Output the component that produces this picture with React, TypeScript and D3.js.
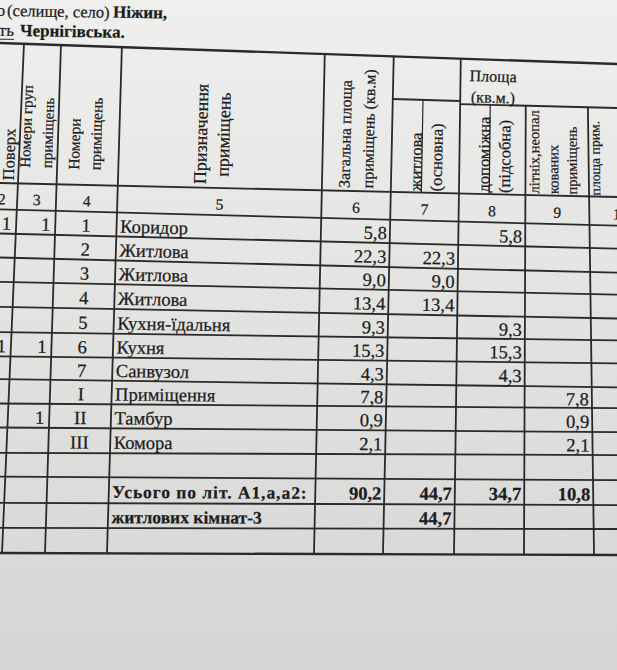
import { useEffect, useRef } from 'react';
import * as d3 from 'd3';

// ---- form content ----
const cityLine = ['Місто', '(селище, село)', 'Ніжин,'];
const regionLine = ['Область', 'Чернігівська.'];

const columnNumbers = ['2', '3', '4', '5', '6', '7', '8', '9', '10'];

const headerCol2 = ['Поверх'];
const headerCol3 = ['Номери груп', 'приміщень'];
const headerCol4 = ['Номери', 'приміщень'];
const headerCol5 = ['Призначення', 'приміщень'];
const headerCol6 = ['Загальна площа', 'приміщень (кв.м)'];
const headerArea = ['Площа', '(кв.м.)'];
const headerCol7 = ['житлова', '(основна)'];
const headerCol8 = ['допоміжна', '(підсобна)'];
const headerCol9 = ['літніх,неопал', 'кованих', 'приміщень'];
const headerCol10 = ['площа прим.'];

const floorNos = ['1', '', '', '', '', '1', '', '', '', '', '', '', '', ''];
const groupNos = ['1', '', '', '', '', '1', '', '', '1', '', '', '', '', ''];
const roomNos = ['1', '2', '3', '4', '5', '6', '7', 'I', 'II', 'III', '', '', '', ''];
const roomNames = [
    'Коридор', 'Житлова', 'Житлова', 'Житлова', 'Кухня-їдальня', 'Кухня', 'Санвузол',
    'Приміщення', 'Тамбур', 'Комора', '', 'Усього по літ. А1,а,а2:', 'житлових кімнат-3', '',
];
const totalArea = ['5,8', '22,3', '9,0', '13,4', '9,3', '15,3', '4,3', '7,8', '0,9', '2,1', '', '90,2', '', ''];
const livingArea = ['', '22,3', '9,0', '13,4', '', '', '', '', '', '', '', '44,7', '44,7', ''];
const auxArea = ['5,8', '', '', '', '9,3', '15,3', '4,3', '', '', '', '', '34,7', '', ''];
const summerArea = ['', '', '', '', '', '', '', '7,8', '0,9', '2,1', '', '10,8', '', ''];
const totalRows = [11, 12];

// ---- layout (the sheet is photographed at a slight angle) ----
const W = 617;
const H = 670;
const Y_TOP = 43;
const Y_BOT = 553;
const FONT = '"Liberation Serif", "Times New Roman", serif';
const INK = '#1d1d1d';
const RULE = '#2a2a2a';

// vertical rulings: x where they cross y = Y_TOP and y = Y_BOT
const vRules: [number, number][] = [
    [-10, -22], [24, 2], [61, 45], [122, 107], [325, 314],
    [394, 383], [461, 454], [526, 524], [587, 594], [650, 656],
];
// horizontal rulings: y at x = 0 and x = W
const hRules: [number, number][] = [
    [43, 64], [183, 197], [209.4, 225.7], [233.5, 248.7], [257.5, 272.7],
    [281.8, 294.6], [306.9, 318.5], [332.2, 340.4], [356.3, 363.3], [379.2, 387.4],
    [403.5, 408.2], [427.5, 432.2], [452.8, 455.1], [476.7, 480.2], [502.8, 505.1],
    [527.9, 529.0], [553, 555],
];
const subRule7: [number, number] = [87.2, 105.7];
const subRule8: [number, number] = [92.5, 108];
const subDivs: [number, number][] = [[424, 415], [491, 485]];

type Sc = d3.ScaleLinear<number, number>;
type Pt = [number, number];

const vert = ([t, b]: [number, number]) => d3.scaleLinear().domain([Y_TOP, Y_BOT]).range([t, b]);
const horz = ([l, r]: [number, number]) => d3.scaleLinear().domain([0, W]).range([l, r]);

const meet = (v: Sc, h: Sc): Pt => {
    let x = v(300);
    let y = h(x);
    for (let k = 0; k < 4; k++) {
        x = v(y);
        y = h(x);
    }
    return [x, y];
};
const mix = (a: Pt, b: Pt, t: number): Pt => [a[0] + (b[0] - a[0]) * t, a[1] + (b[1] - a[1]) * t];
const spot = (vl: Sc, vr: Sc, ht: Sc, hb: Sc, t: number, s: number): Pt =>
    mix(mix(meet(vl, ht), meet(vr, ht), t), mix(meet(vl, hb), meet(vr, hb), t), s);
const deg = (r: number) => (r * 180) / Math.PI;
const rowAngle = (ht: Sc, hb: Sc) => deg(Math.atan((ht(W) - ht(0) + hb(W) - hb(0)) / 2 / W));
const colAngle = (vl: Sc, vr: Sc) =>
    -90 + deg(Math.atan((vl(Y_TOP) - vl(Y_BOT) + vr(Y_TOP) - vr(Y_BOT)) / 2 / (Y_BOT - Y_TOP)));

interface TextOpts {
    dx?: number;
    dy?: string;
    anchor?: string;
    size: number;
    bold?: boolean;
    spacing?: number;
}

export default function App() {
    const svgRef = useRef<SVGSVGElement>(null);

    useEffect(() => {
        if (!svgRef.current) return;
        const svg = d3.select(svgRef.current);
        svg.selectAll('*').remove();

        // paper
        const grad = svg.append('defs').append('linearGradient')
            .attr('id', 'paper').attr('x1', 0).attr('y1', 0).attr('x2', 0).attr('y2', 1);
        [['0%', '#efefed'], ['45%', '#e3e3e1'], ['100%', '#d5d5d5']].forEach(([o, c]) =>
            grad.append('stop').attr('offset', o).attr('stop-color', c));
        svg.append('rect').attr('width', W).attr('height', H).attr('fill', 'url(#paper)');

        const V = vRules.map(vert);
        const Hz = hRules.map(horz);
        const S7 = horz(subRule7);
        const S8 = horz(subRule8);
        const D = subDivs.map(vert);
        const lastV = V.length - 1;
        const lastH = Hz.length - 1;

        // rulings
        const grid = svg.append('g').attr('stroke', RULE).attr('fill', 'none');
        const seg = (a: Pt, b: Pt, w = 1.8) => {
            grid.append('line')
                .attr('x1', a[0]).attr('y1', a[1])
                .attr('x2', b[0]).attr('y2', b[1])
                .attr('stroke-width', w);
        };
        Hz.forEach((h, j) => seg(meet(V[0], h), meet(V[lastV], h), j === 0 || j === lastH ? 2.4 : 1.8));
        V.forEach((v, i) => seg(meet(v, i === 7 || i === 8 ? S8 : Hz[0]), meet(v, Hz[lastH])));
        seg(meet(V[5], S7), meet(V[6], S7));
        seg(meet(V[6], S8), meet(V[lastV], S8));
        seg(meet(D[0], S7), meet(D[0], Hz[1]), 1.2);
        seg(meet(D[1], S8), meet(D[1], Hz[1]), 1.2);

        const txt = svg.append('g')
            .attr('font-family', FONT)
            .attr('fill', INK)
            .attr('stroke', INK)
            .attr('stroke-width', 0.25);
        const put = (p: Pt, angle: number, s: string, o: TextOpts) => {
            if (!s) return;
            txt.append('text')
                .attr('transform', `translate(${p[0].toFixed(1)},${p[1].toFixed(1)}) rotate(${angle.toFixed(2)})`)
                .attr('x', o.dx ?? 0)
                .attr('dy', o.dy ?? '0.35em')
                .attr('text-anchor', o.anchor ?? 'start')
                .attr('font-size', o.size)
                .attr('font-weight', o.bold ? 'bold' : null)
                .attr('letter-spacing', o.spacing ?? null)
                .text(s);
        };

        // title lines above the table
        put([5, 16], 1, cityLine[0], { anchor: 'end', size: 16.5, dy: '0' });
        put([7, 16], 1, cityLine[1], { size: 16.5, dy: '0' });
        put([113, 17.5], 1, cityLine[2], { size: 17, bold: true, dy: '0' });
        put([14, 36], 1, regionLine[0], { anchor: 'end', size: 17, dy: '0' });
        seg([-20, 39], [14, 39.4], 1);
        put([20, 36], 1, regionLine[1], { size: 17, bold: true, dy: '0' });

        // rotated header labels
        const bottomLabel = (c: number, lines: string[], ts: number[], pad: number, size: number) =>
            lines.forEach((s, k) =>
                put(spot(V[c], V[c + 1], Hz[0], Hz[1], ts[k], 1), colAngle(V[c], V[c + 1]), s, { dx: pad, size }));
        bottomLabel(0, headerCol2, [0.68], 3, 16.5);
        bottomLabel(1, headerCol3, [0.16, 0.72], 16, 15);
        bottomLabel(2, headerCol4, [0.27, 0.62], 15, 15.5);
        headerCol5.forEach((s, k) =>
            put(spot(V[3], V[4], Hz[0], Hz[1], [0.4, 0.51][k], 0.61), colAngle(V[3], V[4]), s,
                { anchor: 'middle', size: 18 }));
        bottomLabel(4, headerCol6, [0.32, 0.66], 3, 16);
        bottomLabel(5, headerCol7, [0.36, 0.66], 1.5, 16.5);
        bottomLabel(6, headerCol8, [0.37, 0.68], 1.5, 16.5);
        bottomLabel(7, headerCol9, [0.14, 0.44, 0.73], 1.5, 14.5);
        bottomLabel(8, headerCol10, [0.1], 1, 13.7);
        headerArea.forEach((s, k) =>
            put(spot(V[6], V[7], Hz[0], S8, 0.5, [0.36, 0.83][k]), rowAngle(Hz[0], S8), s,
                { anchor: 'middle', size: 16 }));

        // column numbers
        columnNumbers.forEach((n, c) =>
            put(spot(V[c], V[c + 1], Hz[1], Hz[2], 0.5, 0.5), rowAngle(Hz[1], Hz[2]), n,
                { anchor: 'middle', size: 15.5, dy: '0.52em' }));

        // room rows
        const valueCols = [totalArea, livingArea, auxArea, summerArea];
        roomNames.forEach((name, r) => {
            const ht = Hz[2 + r];
            const hb = Hz[3 + r];
            const a = rowAngle(ht, hb);
            const bold = totalRows.includes(r);
            const base = { size: 18.5, dy: '0.43em' };
            put(spot(V[0], V[1], ht, hb, 1, 0.5), a, floorNos[r], { ...base, dx: -5, anchor: 'end' });
            put(spot(V[1], V[2], ht, hb, 1, 0.5), a, groupNos[r], { ...base, dx: -5, anchor: 'end' });
            put(spot(V[2], V[3], ht, hb, 0.5, 0.5), a, roomNos[r], { ...base, anchor: 'middle' });
            put(spot(V[3], V[4], ht, hb, 0, 0.5), a, name, {
                ...base,
                dx: 3.5,
                bold,
                size: bold ? 17.5 : 18.5,
                spacing: r === totalRows[0] ? 0.95 : undefined,
            });
            valueCols.forEach((col, k) =>
                put(spot(V[4 + k], V[5 + k], ht, hb, 1, 0.5), a, col[r], { ...base, dx: -3, anchor: 'end', bold }));
        });
    }, []);

    return (
        <svg
            ref={svgRef}
            width={W}
            height={H}
            style={{ position: 'absolute', left: 0, top: 0, display: 'block' }}
        />
    );
}
